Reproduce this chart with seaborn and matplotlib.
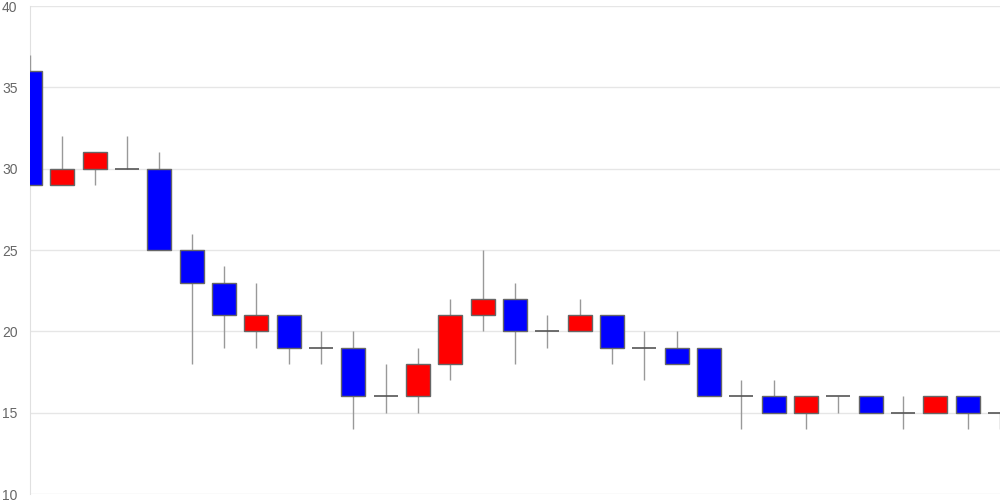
import matplotlib
matplotlib.use("Agg")
import matplotlib.pyplot as plt
import seaborn as sns
import numpy as np
import pandas as pd

opens  = [36, 29, 30, 30, 30, 25, 23, 20, 21, 19, 19, 16, 16, 18, 21, 22, 20, 20, 21, 19, 19, 19, 16, 16, 15, 16, 16, 15, 15, 16, 15]
closes = [29, 30, 31, 30, 25, 23, 21, 21, 19, 19, 16, 16, 18, 21, 22, 20, 20, 21, 19, 19, 18, 16, 16, 15, 16, 16, 15, 15, 16, 15, 15]
highs  = [37, 32, 31, 32, 31, 26, 24, 23, 21, 20, 20, 18, 19, 22, 25, 23, 21, 22, 21, 20, 20, 19, 17, 17, 16, 16, 16, 16, 16, 16, 15]
lows   = [29, 29, 29, 30, 25, 18, 19, 19, 18, 18, 14, 15, 15, 17, 20, 18, 19, 20, 18, 17, 18, 16, 14, 15, 14, 15, 15, 14, 15, 14, 14]
yticks = [10, 15, 20, 25, 30, 35, 40]

df = pd.DataFrame({"i": np.arange(len(opens)), "open": opens, "close": closes,
                   "high": highs, "low": lows})

sns.set_style("white")
plt.rcParams["font.family"] = ["Liberation Sans", "DejaVu Sans"]
fig = plt.figure(figsize=(10, 5), dpi=100)
ax = fig.add_axes([0.03, 0.012, 0.97, 0.976])

width = 0.75
# wicks
ax.vlines(df["i"], df["low"], df["high"], color="#999999", lw=1, zorder=2.6)

up = df[df["close"] > df["open"]]
down = df[df["close"] < df["open"]]
doji = df[df["close"] == df["open"]]

ax.bar(up["i"], up["close"] - up["open"], bottom=up["open"], width=width,
       color="#ff0000", edgecolor="#666666", linewidth=1, zorder=3)
ax.bar(down["i"], down["open"] - down["close"], bottom=down["close"], width=width,
       color="#0000ff", edgecolor="#666666", linewidth=1, zorder=3)
ax.hlines(doji["open"], doji["i"] - width / 2, doji["i"] + width / 2,
          color="#555555", lw=1.2, zorder=3)

ax.set_xlim(0, len(opens) - 1)
ax.set_ylim(10, 40)
ax.set_yticks(yticks)
ax.set_yticklabels([str(t) for t in yticks])
ax.set_xticks([])
ax.yaxis.grid(True, color="#e6e6e6", lw=1)
ax.set_axisbelow(True)
for s in ["top", "right", "bottom"]:
    ax.spines[s].set_visible(False)
ax.spines["left"].set_color("#e0e0e0")
ax.tick_params(axis="y", length=0, labelsize=10, labelcolor="#666666", pad=9)

fig.savefig("out.png", dpi=100)
